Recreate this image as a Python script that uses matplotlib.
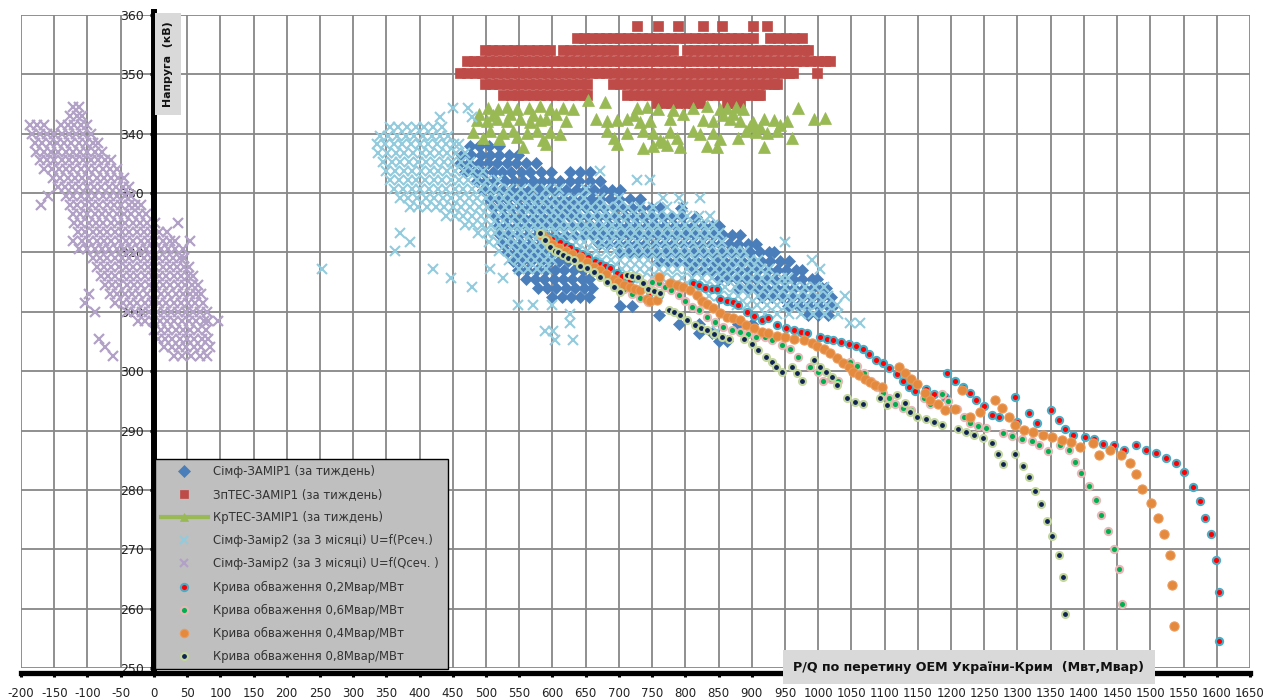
import matplotlib
matplotlib.use('Agg')
import matplotlib.pyplot as plt
from matplotlib.lines import Line2D
import numpy as np

plt.rcParams['font.family'] = ['DejaVu Sans']
plt.rcParams['axes.unicode_minus'] = False

# ---------------- data ----------------
# Сімф-ЗАМІР1 (за тиждень): rows of (voltage, [P values])
simf1_rows = [
    (338.0, [476, 490, 505, 520]),
    (336.5, [464, 478, 492, 506, 520, 534, 548]),
    (335.0, [461, 475, 489, 503, 517, 531, 545, 560, 575]),
    (333.5, [468, 482, 496, 510, 524, 538, 552, 566, 582, 598, 626, 641, 656]),
    (332.0, [486, 500, 514, 528, 542, 556, 570, 584, 598, 612, 626, 640, 656, 671]),
    (330.5, [495, 509, 523, 537, 551, 565, 579, 593, 607, 621, 635, 649, 663, 677, 690, 702]),
    (329.0, [504, 518, 532, 546, 560, 574, 588, 602, 616, 630, 644, 658, 672, 686, 700, 716, 732]),
    (327.5, [510, 524, 538, 552, 566, 580, 594, 608, 622, 636, 650, 664, 678, 692, 706, 720, 734, 748, 762, 793]),
    (326.0, [514, 528, 542, 556, 570, 584, 598, 612, 626, 640, 654, 668, 682, 696, 710, 724, 738, 752, 766, 780, 795, 816]),
    (324.5, [518, 532, 546, 560, 574, 588, 602, 616, 630, 644, 658, 672, 686, 700, 714, 728, 742, 756, 770, 784, 798, 812, 826, 840, 850]),
    (323.0, [521, 535, 549, 563, 577, 591, 605, 619, 633, 647, 661, 675, 689, 703, 717, 731, 745, 759, 773, 787, 801, 815, 829, 843, 857, 870, 882]),
    (321.5, [526, 540, 554, 568, 582, 596, 610, 670, 684, 698, 712, 726, 740, 754, 768, 782, 796, 810, 824, 838, 852, 866, 880, 894, 906]),
    (320.0, [532, 546, 560, 574, 588, 602, 616, 626, 702, 716, 730, 744, 758, 772, 786, 800, 814, 828, 842, 856, 870, 884, 898, 912, 926, 934]),
    (318.5, [540, 554, 568, 582, 596, 610, 624, 638, 760, 774, 788, 802, 816, 830, 844, 858, 872, 886, 900, 914, 928, 942, 956]),
    (317.0, [548, 562, 576, 590, 604, 618, 632, 646, 812, 826, 840, 854, 868, 882, 896, 910, 924, 938, 952, 966, 976]),
    (315.5, [560, 574, 588, 602, 616, 630, 644, 655, 850, 864, 878, 892, 906, 920, 934, 948, 962, 976, 990, 998]),
    (314.0, [578, 592, 606, 620, 634, 648, 660, 880, 894, 908, 922, 936, 950, 964, 978, 992, 1006, 1012]),
    (312.5, [600, 614, 628, 642, 655, 915, 930, 945, 960, 975, 990, 1005, 1020]),
    (311.0, [702, 720, 955, 970, 985, 1000, 1015, 1023]),
    (309.5, [760, 985, 1000, 1015]),
    (308.0, [790, 820, 880, 900]),
    (306.5, [820, 840]),
    (305.0, [850, 862]),
]

# ЗпТЕС-ЗАМІР1 (за тиждень)
zptes_rows = [
    (358.1, [727, 759, 789, 827, 855, 902, 923]),
    (356.1, [637, 648, 659, 670, 681, 691, 702, 713, 724, 735, 746, 757, 768, 779, 790, 801, 814, 825,
             836, 847, 858, 869, 880, 891, 902, 928, 940, 952, 964, 976]),
    (354.1, [498, 509, 520, 531, 542, 553, 564, 576, 587, 596, 616, 627, 638, 649, 660, 671, 682, 693,
             704, 715, 726, 737, 748, 759, 770, 782, 802, 813, 824, 835, 846, 857, 868, 879, 890, 901,
             912, 923, 934, 945, 956, 967, 978, 985]),
    (352.2, [471, 482, 493, 504, 515, 526, 537, 548, 559, 570, 581, 592, 603, 614, 625, 636, 647, 658,
             669, 680, 691, 702, 713, 724, 735, 746, 757, 768, 779, 790, 801, 812, 823, 834, 845, 856,
             867, 878, 889, 900, 911, 922, 933, 944, 955, 966, 977, 988, 999, 1010, 1018]),
    (350.3, [461, 472, 483, 494, 505, 516, 527, 538, 549, 560, 571, 582, 593, 604, 615, 626, 637, 648,
             659, 670, 681, 692, 703, 714, 725, 736, 747, 758, 769, 780, 791, 802, 813, 824, 835, 846,
             857, 868, 879, 890, 901, 912, 923, 934, 945, 956, 962, 998]),
    (348.4, [498, 509, 520, 531, 542, 553, 564, 575, 586, 597, 608, 619, 630, 641, 652, 691, 702, 713,
             724, 735, 746, 757, 768, 779, 790, 801, 812, 823, 834, 845, 856, 867, 878, 889, 900, 911,
             922, 933, 938]),
    (346.5, [526, 537, 548, 559, 570, 581, 592, 603, 614, 625, 636, 647, 652, 712, 723, 734, 745, 756,
             767, 778, 789, 800, 811, 822, 833, 844, 855, 866, 877, 888, 899, 910, 913]),
    (345.1, [757, 768, 779, 790, 801, 812, 822, 863, 874, 882]),
]

# КрТЕС-ЗАМІР1 (за тиждень)
krtes_x = [654, 679, 503, 518, 531, 546, 564, 581, 596, 616, 631, 727, 742, 759, 782, 812, 832, 852, 862, 877, 887, 970,
           486, 501, 516, 531, 551, 566, 581, 591, 621, 666, 682, 697, 712, 732, 747, 777, 827, 842, 867, 882, 902, 918, 933, 953, 993, 1011,
           481, 506, 526, 541, 561, 576, 596, 611, 682, 712, 737, 752, 777, 812, 822, 842, 892, 907, 923, 938,
           556, 591, 737, 752, 772, 792, 832, 847, 918, 697, 767,
           490, 511, 536, 571, 606, 722, 797, 857, 872, 897, 912, 943, 960, 495, 520, 546, 586, 692, 762, 787, 852, 880]
krtes_y = [345.6, 345.4, 344.4, 344.2, 344.5, 344.1, 344.3, 344.6, 344.2, 344.4, 344.1, 344.3, 344.5, 344.2, 344.0, 344.4, 344.6, 344.1, 344.3, 344.5, 344.2, 344.4,
           342.3, 342.1, 342.5, 342.2, 342.4, 342.0, 342.3, 342.5, 342.2, 342.4, 342.1, 342.3, 342.5, 342.0, 342.2, 342.4, 342.3, 342.1, 342.5, 342.2, 342.0, 342.4, 342.3, 342.1, 342.5, 342.6,
           340.3, 340.5, 340.1, 340.4, 340.2, 340.5, 340.3, 340.0, 340.4, 340.2, 340.5, 340.1, 340.3, 340.4, 340.0, 340.2, 340.5, 340.3, 340.1, 340.4,
           337.8, 338.2, 337.6, 337.9, 338.1, 337.7, 338.0, 337.8, 337.7, 338.3, 338.6,
           343.3, 343.2, 343.4, 343.1, 343.3, 343.2, 343.4, 343.1, 343.3, 341.3, 341.2, 341.4, 339.2, 339.3, 339.1, 339.4, 338.9, 339.2, 339.0, 339.3, 339.1, 339.2]

# Сімф-Замір2 (за 3 місяці) U=f(Pсеч.)
simf2p_rows = [
    (344.3, [450, 473]),
    (342.8, [430, 479]),
    (341.2, [356, 368, 381, 394, 407, 420, 433]),
    (339.7, [341, 353, 366, 379, 392, 405, 418, 431, 443]),
    (338.2, [336, 348, 361, 374, 387, 400, 413, 426, 439, 452, 460]),
    (336.7, [338, 351, 364, 377, 390, 403, 416, 429, 442, 455, 468]),
    (335.2, [345, 358, 371, 384, 397, 410, 423, 436, 449, 462, 476]),
    (333.7, [350, 363, 376, 389, 402, 415, 428, 441, 454, 467, 480, 495, 672]),
    (332.2, [356, 369, 382, 395, 408, 421, 434, 447, 460, 473, 487, 502, 518, 727, 747]),
    (330.7, [362, 375, 388, 401, 414, 427, 440, 453, 466, 479, 492, 506, 520, 535, 552, 570, 590, 610, 650]),
    (329.2, [370, 383, 396, 409, 422, 435, 448, 461, 474, 487, 500, 513, 526, 539, 552, 565, 578, 591, 604,
             618, 632, 648, 672, 700, 767, 790, 822]),
    (327.7, [385, 398, 411, 424, 437, 450, 463, 476, 489, 502, 515, 528, 541, 554, 567, 580, 593, 606, 619,
             632, 645, 658, 671, 684, 698, 714, 732, 752, 772, 797]),
    (326.2, [440, 453, 466, 479, 492, 505, 518, 531, 544, 557, 570, 583, 596, 609, 622, 635, 648, 661, 674,
             687, 700, 714, 728, 743, 758, 773, 788, 803, 820, 837]),
    (324.7, [468, 481, 494, 507, 520, 533, 546, 559, 572, 585, 598, 611, 624, 637, 650, 663, 676, 689, 702,
             716, 730, 744, 758, 772, 786, 800, 814, 828, 842]),
    (323.2, [370, 488, 501, 514, 527, 540, 553, 566, 579, 592, 605, 618, 631, 644, 657, 670, 683, 696, 710,
             724, 738, 752, 766, 780, 794, 808, 822, 836, 850]),
    (321.7, [385, 505, 518, 531, 544, 557, 570, 583, 596, 609, 622, 635, 648, 661, 674, 687, 700, 714, 728,
             742, 756, 770, 784, 798, 812, 826, 840, 855, 950]),
    (320.2, [363, 520, 533, 546, 559, 572, 585, 598, 611, 624, 638, 652, 666, 680, 694, 708, 722, 736, 750,
             764, 778, 792, 806, 820, 834, 848, 862, 876, 888]),
    (318.7, [535, 548, 561, 574, 587, 600, 660, 674, 688, 702, 716, 730, 744, 758, 772, 786, 800, 814, 828,
             842, 856, 870, 884, 898, 910, 990]),
    (317.2, [253, 420, 506, 550, 563, 576, 590, 690, 704, 718, 732, 746, 760, 774, 788, 802, 816, 830, 844,
             858, 872, 886, 900, 914, 926, 1003]),
    (315.7, [448, 526, 720, 735, 750, 765, 780, 795, 810, 825, 840, 855, 870, 885, 900, 915, 930, 945, 955]),
    (314.2, [479, 770, 785, 800, 815, 830, 845, 860, 875, 890, 905, 920, 935, 950, 965, 980, 995, 1008]),
    (312.7, [835, 850, 865, 880, 895, 910, 925, 940, 955, 970, 985, 1000, 1015, 1040]),
    (311.2, [548, 571, 600, 878, 893, 908, 923, 938, 953, 968, 983, 998, 1013, 1028]),
    (309.7, [627, 920, 938, 956, 974, 992, 1010, 1030]),
    (308.2, [627, 1048, 1063]),
    (306.7, [589, 601, 848]),
    (305.2, [604, 631]),
]

# Сімф-Замір2 (за 3 місяці) U=f(Qсеч.)
simf2q_rows = [
    (344.5, [-122, -112]),
    (343.0, [-126, -116, -108]),
    (341.5, [-186, -176, -166, -140, -130, -120, -110, -100]),
    (340.0, [-183, -172, -161, -150, -139, -128, -117, -106, -95]),
    (338.5, [-179, -168, -157, -146, -135, -124, -113, -102, -91, -84]),
    (337.0, [-177, -166, -155, -144, -133, -122, -111, -100, -89, -78]),
    (335.5, [-172, -161, -150, -139, -128, -117, -106, -95, -84, -73, -64]),
    (334.0, [-165, -154, -143, -132, -121, -110, -99, -88, -77, -66, -55]),
    (332.5, [-152, -141, -130, -119, -108, -97, -86, -75, -64, -54, -45]),
    (331.0, [-145, -134, -123, -112, -101, -90, -79, -68, -57, -47, -38]),
    (329.5, [-160, -132, -121, -110, -99, -88, -77, -66, -55, -44, -34]),
    (328.0, [-170, -126, -115, -104, -93, -82, -71, -60, -49, -38, -28, -20]),
    (326.5, [-122, -111, -100, -89, -78, -67, -56, -45, -34, -23, -12]),
    (325.0, [-120, -109, -98, -87, -76, -65, -54, -43, -32, -21, -10, 2, 36]),
    (323.5, [-114, -103, -92, -81, -70, -59, -48, -37, -26, -15, -4, 8, 20]),
    (322.0, [-122, -108, -97, -86, -75, -64, -53, -42, -31, -20, -9, 2, 13, 24, 32, 54]),
    (320.5, [-112, -100, -89, -78, -67, -56, -45, -34, -23, -12, -1, 10, 21, 32, 44]),
    (319.0, [-92, -81, -70, -59, -48, -37, -26, -15, -4, 7, 18, 29, 40, 46]),
    (317.5, [-86, -75, -64, -53, -42, -31, -20, -9, 2, 13, 24, 35, 45, 53]),
    (316.0, [-80, -69, -58, -47, -36, -25, -14, -3, 8, 19, 30, 41, 51, 59]),
    (314.5, [-74, -63, -52, -41, -30, -19, -8, 3, 14, 25, 36, 47, 57, 66]),
    (313.0, [-98, -66, -55, -44, -33, -22, -11, 0, 11, 22, 33, 44, 55, 64, 71]),
    (311.5, [-104, -58, -47, -36, -25, -14, -3, 8, 19, 30, 41, 52, 62, 74]),
    (310.0, [-88, -40, -29, -18, -7, 4, 15, 26, 37, 48, 59, 70, 80]),
    (308.5, [-24, -13, -2, 9, 20, 31, 42, 53, 64, 75, 82, 96]),
    (307.0, [0, 11, 22, 33, 44, 55, 66, 78]),
    (305.5, [-82, 6, 17, 28, 39, 50, 61, 72, 82]),
    (304.0, [-74, 16, 27, 38, 49, 60, 71, 84]),
    (302.5, [-62, 30, 42, 56, 70, 80]),
]

# Крива обваження 0,2Мвар/МВт
k02_x = [590, 600, 611, 620, 627, 636, 644, 654, 664, 672, 679, 687, 697, 704, 712, 717, 747, 760, 812, 820, 830, 840, 847,
         852, 862, 872, 880, 893, 903, 915, 925, 938, 952, 964, 974, 983, 1003, 1013, 1023, 1034, 1046, 1057, 1067, 1077,
         1087, 1097, 1107, 1118, 1127, 1137, 1146, 1163, 1174, 1191, 1194, 1206, 1218, 1228, 1238, 1249, 1262, 1272, 1296,
         1299, 1318, 1329, 1350, 1363, 1372, 1384, 1401, 1415, 1429, 1445, 1460, 1479, 1494, 1509, 1523, 1538, 1551, 1564,
         1574, 1583, 1592, 1599, 1604, 1603]
k02_y = [322.8, 322.3, 321.8, 321.2, 320.9, 320.3, 319.7, 319.2, 318.6, 318.1, 317.7, 317.3, 316.6, 316.1, 315.7, 315.3, 313.3, 312.8,
         314.8, 314.5, 314.0, 313.9, 313.8, 312.2, 311.9, 311.6, 311.1, 310.0, 309.3, 308.6, 308.9, 307.7, 307.2, 306.9, 306.6,
         306.4, 305.7, 305.4, 305.2, 304.9, 304.5, 304.2, 303.7, 302.9, 301.8, 301.3, 300.5, 299.6, 298.4, 297.4, 296.6, 297.0,
         296.2, 295.7, 299.7, 298.4, 297.4, 296.3, 295.2, 294.1, 292.6, 292.2, 295.6, 291.4, 292.9, 291.3, 293.4, 291.7, 290.2,
         289.2, 288.9, 288.5, 287.7, 287.5, 286.8, 287.5, 286.8, 286.3, 285.4, 284.6, 283.1, 280.5, 278.1, 275.3, 272.5, 268.2,
         262.8, 254.6]

# Крива обваження 0,6Мвар/МВт
k06_x = [590, 600, 612, 624, 636, 648, 660, 672, 684, 696, 708, 720, 732, 744, 750, 760, 770, 779, 790, 800, 810, 820, 832, 845,
         857, 870, 882, 895, 907, 920, 930, 945, 958, 970, 988, 1000, 1007, 1020, 1030, 1048, 1059, 1069, 1080, 1089, 1097,
         1106, 1116, 1127, 1140, 1159, 1169, 1186, 1196, 1209, 1219, 1228, 1240, 1253, 1278, 1292, 1307, 1322, 1333, 1346,
         1364, 1377, 1386, 1396, 1407, 1418, 1426, 1436, 1445, 1453, 1457]
k06_y = [322.3, 321.3, 320.4, 319.6, 318.8, 318.0, 317.2, 316.4, 315.6, 314.7, 313.8, 313.0, 312.3, 311.6, 315.0, 314.8, 314.2,
         313.6, 312.8, 311.9, 310.8, 310.3, 309.1, 308.3, 307.4, 306.9, 306.6, 306.3, 305.8, 305.8, 305.3, 304.4, 303.8, 302.4,
         300.7, 299.9, 298.4, 298.7, 298.4, 301.5, 300.8, 299.7, 298.4, 297.3, 296.3, 295.4, 294.4, 293.8, 293.4, 295.5, 294.5,
         296.2, 295.0, 293.7, 292.2, 291.2, 290.7, 290.5, 289.6, 289.0, 288.6, 288.2, 287.5, 286.6, 287.5, 286.8, 284.7, 282.8,
         280.7, 278.3, 275.8, 273.0, 270.1, 266.7, 260.8]

# Крива обваження 0,4Мвар/МВт
k04_x = [584, 592, 600, 610, 620, 630, 642, 652, 662, 672, 680, 692, 699, 707, 717, 724, 732, 742, 747, 757, 761, 777, 787, 797,
         807, 817, 825, 832, 842, 852, 862, 872, 882, 892, 903, 915, 925, 938, 950, 963, 978, 990, 998, 1008, 1018, 1028, 1038,
         1046, 1053, 1061, 1070, 1078, 1086, 1096, 1121, 1131, 1139, 1149, 1161, 1169, 1181, 1191, 1206, 1216, 1229, 1244, 1266,
         1277, 1287, 1297, 1310, 1324, 1338, 1352, 1367, 1381, 1394, 1413, 1422, 1440, 1456, 1469, 1479, 1488, 1501, 1512, 1520,
         1529, 1533, 1535]
k04_y = [323.0, 322.2, 321.5, 320.8, 320.2, 319.7, 319.2, 318.4, 317.6, 317.0, 316.3, 315.6, 315.0, 314.5, 314.2, 313.9, 313.6,
         312.2, 311.9, 312.0, 315.9, 314.9, 314.5, 314.2, 313.6, 312.8, 311.9, 311.4, 310.6, 309.8, 309.1, 308.9, 308.6, 307.8,
         307.2, 306.6, 306.4, 306.0, 305.8, 305.5, 305.2, 304.7, 304.3, 303.7, 303.1, 302.3, 301.3, 300.7, 299.9, 299.3, 298.7,
         298.2, 297.7, 297.3, 300.7, 299.7, 298.7, 297.8, 296.3, 295.2, 294.4, 293.5, 293.7, 296.9, 292.2, 293.1, 295.2, 293.8,
         292.2, 290.9, 290.1, 289.7, 289.3, 288.9, 288.4, 288.0, 287.2, 287.9, 285.8, 286.8, 285.8, 284.5, 282.6, 280.2, 277.8,
         275.3, 272.5, 269.1, 264.0, 257.1]

# Крива обваження 0,8Мвар/МВт
k08_x = [581, 589, 596, 604, 609, 616, 624, 632, 642, 652, 662, 672, 682, 692, 702, 712, 720, 729, 737, 744, 753, 762, 775, 783,
         792, 803, 815, 823, 832, 843, 855, 866, 888, 900, 910, 922, 930, 937, 945, 960, 968, 975, 993, 1003, 1012, 1021, 1029,
         1043, 1056, 1068, 1093, 1103, 1119, 1130, 1138, 1149, 1162, 1174, 1186, 1210, 1222, 1235, 1248, 1261, 1270, 1278, 1297,
         1309, 1317, 1326, 1336, 1344, 1352, 1363, 1368, 1372]
k08_y = [323.2, 322.1, 321.0, 320.3, 320.1, 319.5, 319.0, 318.7, 317.8, 317.3, 316.7, 315.9, 315.0, 314.2, 313.3, 316.2, 316.0,
         315.8, 314.9, 313.9, 313.5, 313.1, 310.3, 309.9, 309.4, 308.6, 307.7, 307.3, 306.9, 306.3, 305.8, 305.5, 305.5, 304.6,
         303.5, 302.4, 301.5, 300.7, 299.9, 300.7, 299.7, 298.4, 301.8, 300.7, 299.9, 299.0, 297.6, 295.4, 294.8, 294.5, 295.4,
         294.3, 296.0, 294.6, 293.1, 292.2, 291.9, 291.4, 291.0, 290.2, 289.8, 289.3, 288.7, 287.9, 286.1, 284.4, 286.1, 284.1,
         282.1, 279.8, 277.7, 274.8, 272.2, 269.1, 265.4, 259.1]

x_ticks = list(range(-200, 1651, 50))
y_ticks = list(range(250, 361, 10))

labels = ['Сімф-ЗАМІР1 (за тиждень)', 'ЗпТЕС-ЗАМІР1 (за тиждень)', 'КрТЕС-ЗАМІР1 (за тиждень)',
          'Сімф-Замір2 (за 3 місяці) U=f(Pсеч.)', 'Сімф-Замір2 (за 3 місяці) U=f(Qсеч. )',
          'Крива обваження 0,2Мвар/МВт', 'Крива обваження 0,6Мвар/МВт',
          'Крива обваження 0,4Мвар/МВт', 'Крива обваження 0,8Мвар/МВт']


def flat(rows):
    xs, ys = [], []
    for y, xl in rows:
        xs += list(xl)
        ys += [y] * len(xl)
    return xs, ys


# ---------------- figure ----------------
W, H = 1270, 700
fig = plt.figure(figsize=(W / 100, H / 100), dpi=100)
ax = fig.add_axes([21 / W, (H - 668) / H, (1250 - 21) / W, (668 - 15) / H])
ax.set_xlim(-200, 1650)
ax.set_ylim(250, 360)

styles = [
    dict(marker='D', ms=6.4, mfc='#4A7EBB', mec='#4A7EBB', mew=0.5),
    dict(marker='s', ms=6.8, mfc='#BE4B48', mec='#BE4B48', mew=0.5),
    dict(marker='^', ms=9.0, mfc='#98B954', mec='#98B954', mew=0.5),
    dict(marker='x', ms=7.4, mfc='none', mec='#92CBDD', mew=1.5),
    dict(marker='x', ms=7.4, mfc='none', mec='#B2A1C7', mew=1.6),
    dict(marker='o', ms=5.2, mfc='#FF0000', mec='#4BACC6', mew=1.5),
    dict(marker='o', ms=5.2, mfc='#00B050', mec='#E6B9B8', mew=1.5),
    dict(marker='o', ms=6.6, mfc='#E38A3E', mec='#EC9A5A', mew=0.8),
    dict(marker='o', ms=5.0, mfc='#0F2454', mec='#C3D69B', mew=1.5),
]

series = [flat(simf1_rows), flat(zptes_rows), (krtes_x, krtes_y), flat(simf2p_rows), flat(simf2q_rows),
          (k02_x, k02_y), (k06_x, k06_y), (k04_x, k04_y), (k08_x, k08_y)]

for (sx, sy), st in zip(series, styles):
    ax.plot(sx, sy, linestyle='none', zorder=2, **st)

# grid
ax.set_xticks(x_ticks)
ax.set_yticks(y_ticks)
ax.grid(True, color='#878787', linewidth=1.3)
ax.set_axisbelow(True)

# spines
for s in ('top', 'right'):
    ax.spines[s].set_visible(False)
ax.spines['left'].set_position(('data', 0))
ax.spines['left'].set_linewidth(4.3)
ax.spines['left'].set_color('black')
ax.spines['left'].set_zorder(3)
ax.spines['left'].set_bounds(249.2, 360.5)
ax.spines['bottom'].set_position(('outward', 3.5))
ax.spines['bottom'].set_linewidth(3.8)
ax.spines['bottom'].set_color('black')
ax.spines['bottom'].set_zorder(3)

ax.tick_params(axis='x', direction='out', length=3, width=2.2, pad=7, labelsize=8.5,
               labelcolor='#222222', color='black')
ax.tick_params(axis='y', direction='out', length=3, width=2.2, pad=4, labelsize=9,
               labelcolor='#222222', color='black')

# axis titles in grey boxes
fig.text(168 / W, 1 - 64 / H, 'Напруга  (кВ)', rotation=90, ha='center', va='center',
         fontsize=7.9, fontweight='bold', color='#111111',
         bbox=dict(boxstyle='square,pad=0.75', fc='#D9D9D9', ec='none'))
fig.text(969 / W, 1 - 667 / H, 'P/Q по перетину ОЕМ України-Крим  (Мвт,Мвар)', ha='center', va='center',
         fontsize=9.1, fontweight='bold', color='#111111',
         bbox=dict(boxstyle='square,pad=0.8', fc='#D9D9D9', ec='none'))

# legend
handles = []
for i, st in enumerate(styles):
    hs = dict(st)
    hs['ms'] = min(st['ms'], 6.0)
    if i == 2:
        h = Line2D([], [], color='#98B954', lw=3, **hs)
    else:
        h = Line2D([], [], linestyle='none', **hs)
    handles.append(h)

x0 = (155 - 21) / (1250 - 21)
top = (668 - 459) / (668 - 15)
wid = (448 - 155) / (1250 - 21)
leg = ax.legend(handles, labels, loc='upper left', bbox_to_anchor=(x0, top - 0.5, wid, 0.5), mode='expand',
                borderaxespad=0, frameon=True, fancybox=False, fontsize=8.4, labelspacing=0.87,
                handlelength=4.0, handletextpad=0.5, borderpad=0.5, labelcolor='#333333')
fr = leg.get_frame()
fr.set_facecolor('#BFBFBF')
fr.set_edgecolor('black')
fr.set_alpha(1)
fr.set_linewidth(1.0)

fig.savefig('out.png', dpi=100)
